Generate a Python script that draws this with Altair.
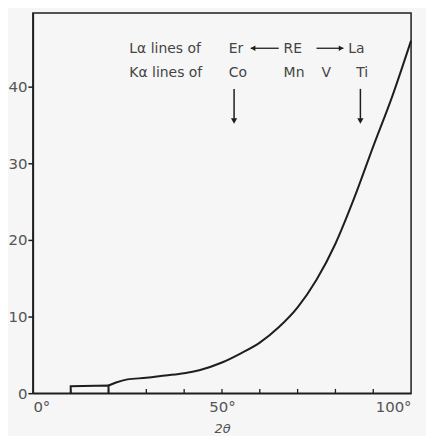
import altair as alt
import pandas as pd

# Box at low angles
box_x = [10, 10, 20, 20]
box_y = [0, 0.9, 1.0, 0]

# Main curve (2θ in degrees, intensity)
curve_x = [20, 22, 25, 30, 35, 40, 44, 50, 55, 60, 65, 70, 75, 80, 85, 90, 95, 100]
curve_y = [1.0, 1.4, 1.8, 2.0, 2.3, 2.6, 3.0, 4.0, 5.2, 6.6, 8.6, 11.2, 14.8, 19.5, 25.5, 32.2, 38.7, 46.0]

# inward ticks on the x axis
xtick_vals = [10, 20, 30, 40, 50, 60, 70, 80, 90]

# annotation texts
ann_text = ["Lα lines of", "Er", "RE", "La", "Kα lines of", "Co", "Mn", "V", "Ti"]
ann_x = [25.5, 51.8, 66.3, 83.4, 25.5, 51.8, 66.3, 76.3, 85.5]
ann_y = [44.9, 44.9, 44.9, 44.9, 41.8, 41.8, 41.8, 41.8, 41.8]

# arrows
varrow_x = [53.2, 86.6]
harrow_x1 = [57.6, 75.0]
harrow_x2 = [65.0, 82.1]
harrow_head = ["triangle-left", "triangle-right"]

X = alt.Scale(domain=[0, 100], nice=False, zero=False)
Y = alt.Scale(domain=[0, 49.6], nice=False, zero=False)

ink = "#1e1e1e"
txt = "#555555"
FONT = "DejaVu Sans"

box_df = pd.DataFrame({"x": box_x, "y": box_y, "o": list(range(len(box_x)))})
curve_df = pd.DataFrame({"x": curve_x, "y": curve_y})

base_box = alt.Chart(box_df).mark_line(color=ink, strokeWidth=2).encode(
    x=alt.X("x:Q", scale=X, axis=alt.Axis(
        values=[0, 50, 100], labelExpr="datum.value + '°'", ticks=False,
        domain=True, domainColor=ink, domainWidth=1.5, grid=False,
        labelFontSize=15, labelColor=txt, labelFont=FONT, labelPadding=6,
        title="2θ", titleFontSize=13, titleFont=FONT, titleColor=txt,
        titleFontWeight="normal", titleFontStyle="italic", titlePadding=9)),
    y=alt.Y("y:Q", scale=Y, axis=alt.Axis(
        values=[0, 10, 20, 30, 40], ticks=True, tickSize=5, tickColor=ink,
        tickWidth=1.5, domain=True, domainColor=ink, domainWidth=1.5,
        grid=False, labelFontSize=15, labelColor=txt, labelFont=FONT,
        labelPadding=1, title=None)),
    order="o:Q",
)

curve = alt.Chart(curve_df).mark_line(color=ink, strokeWidth=2, interpolate="monotone").encode(
    x=alt.X("x:Q", scale=X), y=alt.Y("y:Q", scale=Y)
)

ticks_df = pd.DataFrame({"x": xtick_vals, "y": [0] * len(xtick_vals), "y2": [0.55] * len(xtick_vals)})
ticks = alt.Chart(ticks_df).mark_rule(color=ink, strokeWidth=1.3).encode(
    x=alt.X("x:Q", scale=X), y=alt.Y("y:Q", scale=Y), y2="y2:Q"
)

ann_df = pd.DataFrame({"t": ann_text, "x": ann_x, "y": ann_y})
ann = alt.Chart(ann_df).mark_text(align="left", baseline="middle", fontSize=14,
                                   font=FONT, color="#444444").encode(
    x=alt.X("x:Q", scale=X), y=alt.Y("y:Q", scale=Y), text="t:N"
)

va_df = pd.DataFrame({"x": varrow_x, "y": [39.7] * 2, "y2": [35.6] * 2, "yh": [35.5] * 2})
vshaft = alt.Chart(va_df).mark_rule(color=ink, strokeWidth=1.5).encode(
    x=alt.X("x:Q", scale=X), y=alt.Y("y:Q", scale=Y), y2="y2:Q"
)
vhead = alt.Chart(va_df).mark_point(shape="triangle-down", filled=True, color=ink,
                                    size=40, opacity=1).encode(
    x=alt.X("x:Q", scale=X), y=alt.Y("yh:Q", scale=Y)
)

ha_df = pd.DataFrame({"x": harrow_x1, "x2": harrow_x2, "y": [45.0] * 2,
                      "hx": [harrow_x1[0] + 0.6, harrow_x2[1] - 0.6], "s": harrow_head})
hshaft = alt.Chart(ha_df).mark_rule(color=ink, strokeWidth=1.3).encode(
    x=alt.X("x:Q", scale=X), x2="x2:Q", y=alt.Y("y:Q", scale=Y)
)
hhead = alt.Chart(ha_df).mark_point(filled=True, color=ink, size=30, opacity=1).encode(
    x=alt.X("hx:Q", scale=X), y=alt.Y("y:Q", scale=Y),
    shape=alt.Shape("s:N", scale=None, legend=None)
)

chart = alt.layer(base_box, curve, ticks, ann, vshaft, vhead, hshaft, hhead).properties(
    width=380, height=382,
    autosize=alt.AutoSizeParams(type="none"),
    padding={"left": 25, "top": 4, "right": 15, "bottom": 42},
    background="#f6f6f6",
).configure_view(stroke=ink, strokeWidth=1.5)

chart.save("out.html", embed_options={"renderer": "svg", "actions": False})
